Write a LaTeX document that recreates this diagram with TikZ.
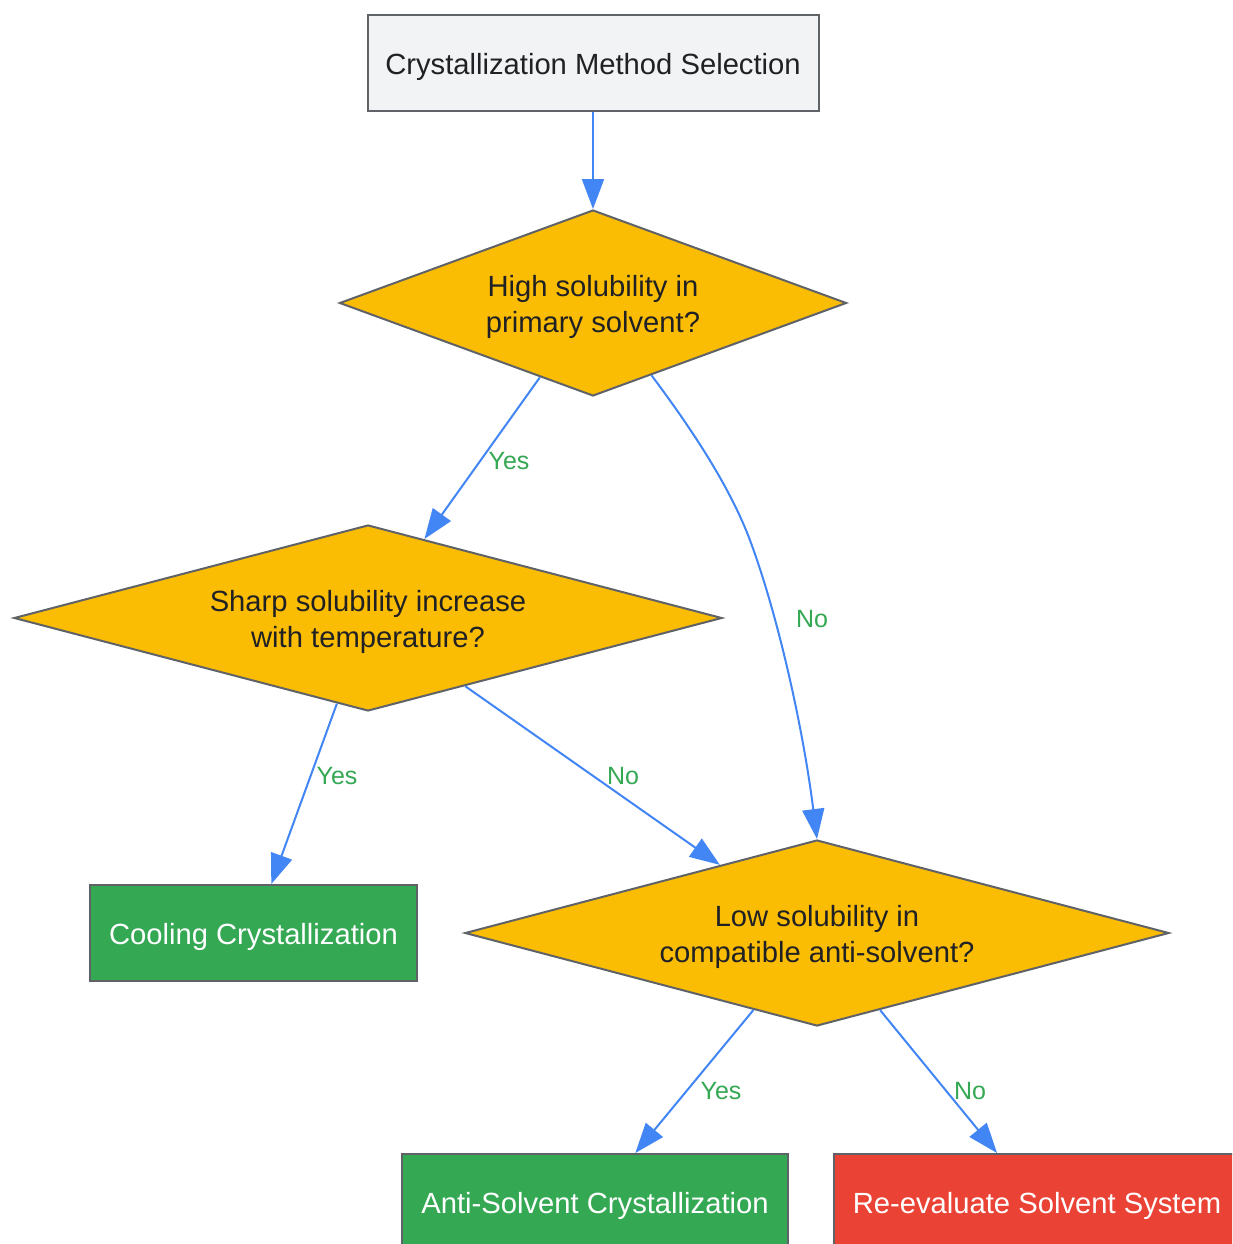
\documentclass[tikz,border=0pt]{standalone}
\usepackage{fontspec}
\setmainfont{Liberation Sans}
\usetikzlibrary{shapes.geometric,arrows.meta,calc}
\definecolor{bordergray}{HTML}{5F6368}
\definecolor{startfill}{HTML}{F1F3F4}
\definecolor{amber}{HTML}{FBBC04}
\definecolor{okgreen}{HTML}{34A853}
\definecolor{badred}{HTML}{EA4335}
\definecolor{linkblue}{HTML}{4285F4}
\definecolor{darktext}{HTML}{202124}
\begin{document}
\begin{tikzpicture}[x=1pt,y=-1pt,
  boxnode/.style={rectangle, draw=bordergray, line width=2pt, inner sep=0pt,
    minimum height=96pt},
  dianode/.style={diamond, draw=bordergray, fill=amber, line width=2pt, inner sep=0pt,
    minimum height=186pt, aspect=3},
  nodetext/.style={inner sep=0pt, align=center, yshift=-3.5pt,
    font=\fontsize{29.2}{36}\selectfont},
  link/.style={draw=linkblue, line width=2pt, -{Triangle[length=30pt,width=22pt]}},
  lbl/.style={text=okgreen, inner sep=0pt, font=\fontsize{25}{30}\selectfont}]
\useasboundingbox (0,0) rectangle (1232,1244);
\clip (0,0) rectangle (1232,1244);
\fill[white] (0,0) rectangle (1232,1244);

\node[boxnode, fill=startfill, minimum width=451pt,
  label={[nodetext, text=darktext]center:Crystallization Method Selection}] (top) at (593,63.5) {};
\node[dianode, minimum width=507pt,
  label={[nodetext, text=darktext]center:{High solubility in\\primary solvent?}}] (d1) at (593,303) {};
\node[dianode, minimum width=708pt,
  label={[nodetext, text=darktext]center:{Sharp solubility increase\\with temperature?}}] (d2) at (368,618) {};
\node[dianode, minimum width=704pt,
  label={[nodetext, text=darktext]center:{Low solubility in\\compatible anti-solvent?}}] (d3) at (817,933) {};
\node[boxnode, fill=okgreen, minimum width=327pt,
  label={[nodetext, text=white]center:Cooling Crystallization}] (cool) at (253.5,933) {};
\node[boxnode, fill=okgreen, minimum width=386pt,
  label={[nodetext, text=white]center:Anti-Solvent Crystallization}] (anti) at (595,1202) {};
\node[boxnode, fill=badred, minimum width=406pt,
  label={[nodetext, text=white]center:Re-evaluate Solvent System}] (reval) at (1037,1202) {};

\draw[link] (top.south) -- (d1.north);
\draw[link] (d1) -- (d2);
\draw[link] ($(d1.south)!0.23!(d1.east)$) .. controls (700,440) and (730,490) .. (748,535)
  .. controls (775,605) and (802,720) .. (d3.north);
\draw[link] (d2) -- (cool);
\draw[link] (d2) -- (d3);
\draw[link] (d3) -- (anti);
\draw[link] (d3) -- (reval);

\node[lbl] (l1) at (509,461) {Yes};
\node[lbl] (l2) at (812,619) {No};
\node[lbl] (l3) at (337,776) {Yes};
\node[lbl] (l4) at (623,776) {No};
\node[lbl] (l5) at (721,1091) {Yes};
\node[lbl] (l6) at (970,1091) {No};
\end{tikzpicture}
\end{document}
